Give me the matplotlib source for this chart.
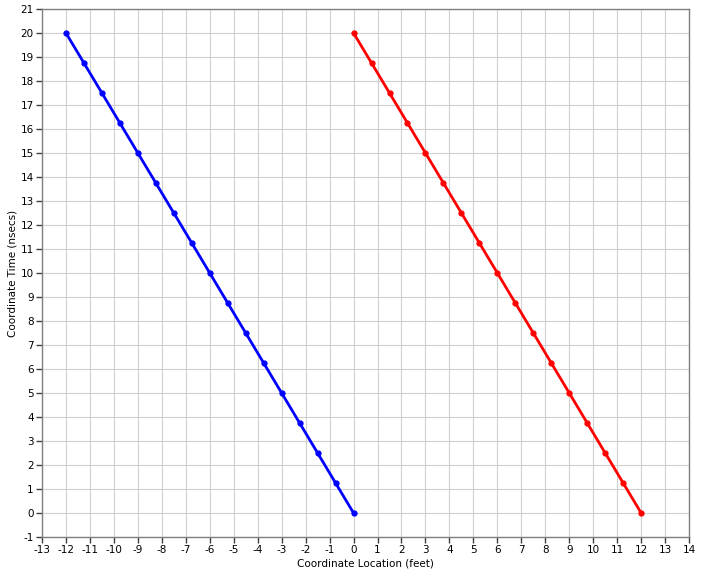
import matplotlib.pyplot as plt

plt.rcParams['axes.unicode_minus'] = False

# Left worldline (blue) and right worldline (red): location in feet, time in nsecs
blue_x = [-12, -11.25, -10.5, -9.75, -9, -8.25, -7.5, -6.75, -6, -5.25, -4.5,
          -3.75, -3, -2.25, -1.5, -0.75, 0]
blue_t = [20, 18.75, 17.5, 16.25, 15, 13.75, 12.5, 11.25, 10, 8.75, 7.5,
          6.25, 5, 3.75, 2.5, 1.25, 0]
red_x = [0, 0.75, 1.5, 2.25, 3, 3.75, 4.5, 5.25, 6, 6.75, 7.5,
         8.25, 9, 9.75, 10.5, 11.25, 12]
red_t = [20, 18.75, 17.5, 16.25, 15, 13.75, 12.5, 11.25, 10, 8.75, 7.5,
         6.25, 5, 3.75, 2.5, 1.25, 0]

x_ticks = list(range(-13, 15))
y_ticks = list(range(-1, 22))

fig = plt.figure(figsize=(7.01, 5.77), dpi=100)
ax = fig.add_axes([0.0599, 0.0693, 0.9231, 0.9151])

ax.plot(blue_x, blue_t, color='#0000ff', linewidth=2, marker='o', markersize=3.5)
ax.plot(red_x, red_t, color='#ff0000', linewidth=2, marker='o', markersize=3.5)

ax.set_xlim(-13, 14)
ax.set_ylim(-1, 21)
ax.set_xticks(x_ticks)
ax.set_yticks(y_ticks)
ax.grid(True, color='#d0d0d0', linewidth=0.8)
ax.set_axisbelow(True)

for s in ax.spines.values():
    s.set_color('#808080')
    s.set_linewidth(1)
ax.tick_params(direction='out', length=4, width=1, color='#404040',
               labelsize=7.5, pad=2)

ax.set_xlabel('Coordinate Location (feet)', fontsize=7.5, labelpad=2)
ax.set_ylabel('Coordinate Time (nsecs)', fontsize=7.5, labelpad=2)

fig.savefig('out.png', dpi=100)
